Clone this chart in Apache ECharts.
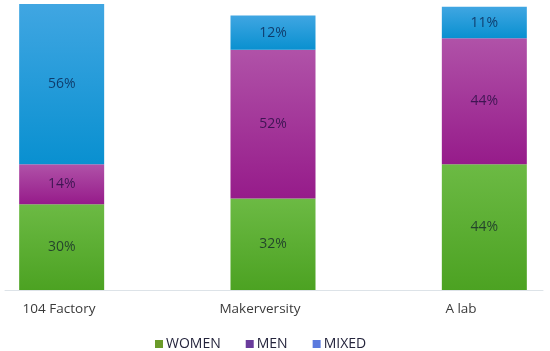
<!DOCTYPE html>
<html>
<head>
<meta charset="utf-8">
<script src="https://cdn.jsdelivr.net/npm/echarts@6/dist/echarts.min.js"></script>
<style>
html,body{margin:0;padding:0;background:#fff;}
#chart{width:550px;height:351px;}
</style>
</head>
<body>
<div id="chart"></div>
<script>
const categories = ['104 Factory', 'Makerversity', 'A lab'];
const women = [30, 32, 44];
const men = [14, 52, 44];
const mixed = [56, 12, 11];
const seriesNames = ['WOMEN', 'MEN', 'MIXED'];

const chart = echarts.init(document.getElementById('chart'));
function grad(top, bottom) {
  return new echarts.graphic.LinearGradient(0, 0, 0, 1, [
    { offset: 0, color: top }, { offset: 1, color: bottom }
  ]);
}
const labelCfg = {
  show: true, position: 'inside', formatter: '{c}%',
  color: 'rgba(0,0,40,0.62)', fontSize: 14, fontFamily: 'Open Sans'
};
const baseX = { type: 'category', data: categories };
chart.setOption({
  animation: false,
  grid: [
    { left: -44, right: -40, top: 4, bottom: 61, outerBoundsMode: 'none', containLabel: false },
    { left: 5, right: 7, top: 4, bottom: 61, outerBoundsMode: 'none', containLabel: false },
    { left: -41.5, right: -11.5, top: 4, bottom: 61, outerBoundsMode: 'none', containLabel: false }
  ],
  xAxis: [
    Object.assign({}, baseX, { gridIndex: 0, axisLine: { show: false }, axisTick: { show: false }, axisLabel: { show: false } }),
    Object.assign({}, baseX, { gridIndex: 1, axisLine: { show: true, lineStyle: { color: '#dde3e8', width: 1 } }, axisTick: { show: false }, axisLabel: { show: false } }),
    Object.assign({}, baseX, { gridIndex: 2, axisLine: { show: false }, axisTick: { show: false },
      axisLabel: { show: true, margin: 12, color: '#3a3a3a', fontSize: 13.5, fontFamily: 'Open Sans' } })
  ],
  yAxis: [
    { type: 'value', gridIndex: 0, min: 0, max: 100, show: false },
    { type: 'value', gridIndex: 1, min: 0, max: 100, show: false },
    { type: 'value', gridIndex: 2, min: 0, max: 100, show: false }
  ],
  legend: {
    left: 150, top: 332, itemWidth: 8, itemHeight: 8, itemGap: 25, icon: 'rect',
    textStyle: { color: '#24243c', fontSize: 14, fontFamily: 'Open Sans', padding: [0, 0, 0, -2] },
    data: [
      { name: seriesNames[0], itemStyle: { color: '#6b9b2a' } },
      { name: seriesNames[1], itemStyle: { color: '#6a3c9c' } },
      { name: seriesNames[2], itemStyle: { color: '#5b7ade' } }
    ]
  },
  series: [
    { name: seriesNames[0], type: 'bar', stack: 's', data: women, barWidth: 85,
      itemStyle: { color: grad('#6cba44', '#4ca222') }, label: labelCfg },
    { name: seriesNames[1], type: 'bar', stack: 's', data: men, barWidth: 85,
      itemStyle: { color: grad('#b052a8', '#961b8a') }, label: labelCfg },
    { name: seriesNames[2], type: 'bar', stack: 's', data: mixed, barWidth: 85,
      itemStyle: { color: grad('#40a6e2', '#0990d0') }, label: labelCfg }
  ]
});
</script>
</body>
</html>
